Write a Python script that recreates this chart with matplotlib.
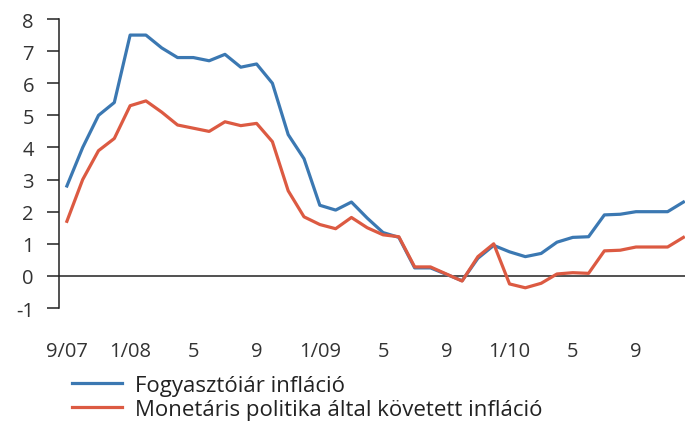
import matplotlib
matplotlib.use("Agg")
from matplotlib import pyplot as plt
import numpy as np

plt.rcParams['font.family'] = ['Open Sans', 'DejaVu Sans']
plt.rcParams['axes.unicode_minus'] = False

# monthly data, 9/2007 - 12/2010
fogyasztoiar = [2.8, 4.0, 5.0, 5.4, 7.5, 7.5, 7.1, 6.8, 6.8, 6.7,
                6.9, 6.5, 6.6, 6.0, 4.4, 3.65, 2.2, 2.05, 2.3, 1.8,
                1.35, 1.2, 0.25, 0.25, 0.05, -0.15, 0.55, 0.95, 0.75, 0.6,
                0.7, 1.05, 1.2, 1.22, 1.9, 1.92, 2.0, 2.0, 2.0, 2.3]
monetaris = [1.7, 3.0, 3.9, 4.28, 5.3, 5.45, 5.1, 4.7, 4.6, 4.5,
             4.8, 4.68, 4.75, 4.18, 2.65, 1.84, 1.6, 1.47, 1.82, 1.5,
             1.28, 1.22, 0.28, 0.28, 0.06, -0.16, 0.6, 1.0, -0.25, -0.37,
             -0.23, 0.06, 0.1, 0.08, 0.78, 0.8, 0.9, 0.9, 0.9, 1.2]
tick_labels = ["9/07", "1/08", "5", "9", "1/09", "5", "9", "1/10", "5", "9"]

x = np.arange(len(fogyasztoiar))

fig = plt.figure(figsize=(6.85, 4.27), dpi=100)
ax = fig.add_axes([0.0861, 0.2763, 0.9139, 0.6768])

ax.plot(x, fogyasztoiar, color="#3b78b2", lw=2.3, label="Fogyasztóiár infláció")
ax.plot(x, monetaris, color="#dc5a42", lw=2.3, label="Monetáris politika által követett infláció")
ax.axhline(0, color="#222222", lw=1.1, zorder=0)

ax.set_xlim(-0.5, 39.1)
ax.set_ylim(-1, 8)
ax.set_yticks(range(-1, 9))
ax.set_xticks(x[::4])
ax.set_xticklabels(tick_labels)

for s in ["top", "right", "bottom"]:
    ax.spines[s].set_visible(False)
ax.spines["left"].set_color("#222222")
ax.spines["left"].set_linewidth(1.1)
ax.tick_params(axis="y", length=9, width=1.1, color="#222222", labelsize=14.5,
               labelcolor="#333333", pad=9)
ax.tick_params(axis="x", length=0, labelsize=14.5, labelcolor="#333333", pad=24)

fig.legend(loc="upper left", bbox_to_anchor=(0.105, 0.12), frameon=False,
           fontsize=16, handlelength=2.25, handletextpad=0.6, labelspacing=0.15,
           borderaxespad=0, borderpad=0, labelcolor="#222222")

fig.savefig("out.png", dpi=100)
